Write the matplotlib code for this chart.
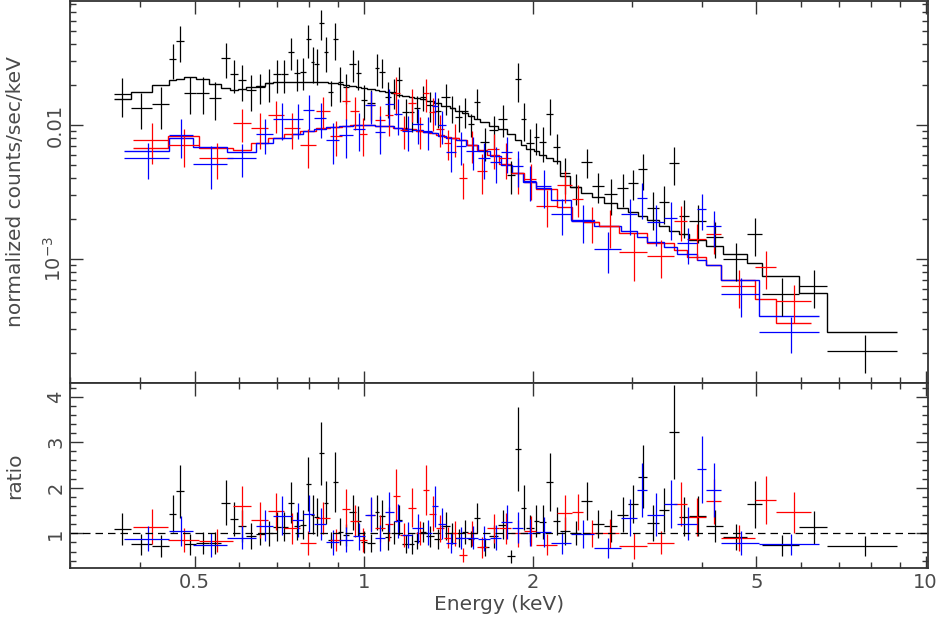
import numpy as np
import matplotlib
matplotlib.use("Agg")
import matplotlib.pyplot as plt
from matplotlib.ticker import NullFormatter, MultipleLocator

# bin edges (keV), data flux, 1-sigma errors and folded model (counts/sec/keV)
black_edges = [0.359, 0.385, 0.419, 0.451, 0.464, 0.478, 0.502, 0.531, 0.558, 0.577,
               0.596, 0.616, 0.642, 0.666, 0.688, 0.711, 0.732, 0.750, 0.769, 0.788,
               0.804, 0.817, 0.831, 0.848, 0.865, 0.883, 0.898, 0.920, 0.943, 0.967,
               0.987, 1.015, 1.045, 1.066, 1.093, 1.120, 1.143, 1.172, 1.206, 1.231,
               1.261, 1.288, 1.331, 1.375, 1.421, 1.456, 1.498, 1.536, 1.574, 1.613,
               1.674, 1.737, 1.795, 1.862, 1.908, 1.948, 2.005, 2.054, 2.114, 2.176,
               2.239, 2.332, 2.440, 2.552, 2.681, 2.827, 2.958, 3.082, 3.198, 3.359,
               3.500, 3.645, 3.797, 4.072, 4.365, 4.816, 5.123, 5.962, 6.685, 8.907]
black_flux = [.01704, .01339, .01435, .03109, .04235, .01733, .01733, .01591, .03162, .02402,
              .02167, .01825, .01921, .02058, .02402, .02402, .03506, .02444, .02486, .04383,
              .02952, .02853, .0577, .03506, .01763, .04383, .02094, .01921, .02853, .02444,
              .01537, .0146, .02663, .02486, .01618, .01763, .02167, .0125, .0125, .01339,
              .01618, .0141, .01272, .01618, .01339, .01147, .01272, .01017, .01485, .00747,
              .00918, .01109, .004235, .02204, .01109, .00734, .00814, .00747, .01208, .00685,
              .00438, .00345, .0053, .00351, .00306, .00339, .00369, .004695, .0024, .00266,
              .00521, .00209, .00192, .00146, .001, .00153, .000548, .000629, .000206]
black_err = [.0055, .0040, .0050, .0090, .0129, .0053, .0053, .0050, .0092, .0068,
             .0066, .0055, .0048, .0057, .0068, .0068, .0094, .0064, .0067, .0124,
             .0089, .0087, .0145, .0100, .0037, .0134, .0061, .0048, .0076, .0062,
             .0045, .0037, .0071, .0061, .0049, .0044, .0055, .0032, .0036, .0031,
             .0034, .0036, .0032, .0042, .0031, .0026, .0032, .0020, .0037, .0021,
             .0025, .0030, .0012, .0071, .0035, .0020, .0022, .0022, .0036, .0017,
             .0013, .0009, .0013, .0009, .00093, .00094, .00093, .00143, .00076, .00084,
             .00167, .00066, .0006, .00044, .00031, .00048, .00017, .0002, .000065]
black_model = [.01563, .01763, .01988, .02167, .02204, .02281, .02204, .02023, .01888, .01825,
               .01856, .01921, .01954, .02058, .02094, .02094, .02094, .02094, .02094, .02094,
               .02094, .02094, .02094, .02094, .02058, .02058, .02023, .01988, .01954, .01921,
               .01888, .01856, .01825, .01794, .01763, .01733, .01674, .01646, .01618, .01591,
               .01563, .01511, .0146, .01386, .01339, .01272, .01229, .01167, .01109, .01053,
               .00983, .00934, .00857, .00773, .00709, .00662, .0064, .00597, .00567, .00539,
               .00416, .00345, .00311, .0029, .00262, .0024, .00224, .00209, .00195, .00176,
               .00162, .00153, .001387, .00125, .00109, .000934, .000747, .000557, .000285]

red_edges = [0.389, 0.449, 0.510, 0.584, 0.631, 0.674, 0.720, 0.769, 0.821, 0.869,
             0.913, 0.947, 0.982, 1.015, 1.049, 1.089, 1.125, 1.162, 1.201, 1.241,
             1.277, 1.309, 1.347, 1.392, 1.432, 1.480, 1.529, 1.593, 1.660, 1.744,
             1.832, 1.932, 2.029, 2.211, 2.351, 2.460, 2.627, 2.851, 3.198, 3.571,
             3.766, 4.072, 4.329, 4.977, 5.424, 6.260]
red_flux = [.00773, .00709, .00567, .01035, .0095, .01187, .0095, .00709, .01272, .00828,
            .01511, .01272, .00857, .0141, .0109, .01187, .01733, .00918, .0146, .00902,
            .01733, .0125, .00934, .00734, .0080, .00401, .00709, .00454, .00662, .00567,
            .00438, .00395, .00249, .00357, .00281, .00189, .00176, .00113, .00105, .00192,
            .00141, .00153, .000629, .000871, .000486]
red_err = [.0026, .0022, .0017, .0029, .0029, .0032, .0029, .0023, .0034, .0024,
           .0042, .0035, .0027, .0036, .0029, .0036, .0055, .0025, .0040, .0024,
           .0049, .0034, .0025, .0019, .0022, .0012, .0019, .0015, .0019, .0017,
           .0013, .0012, .00076, .00096, .00075, .00057, .00055, .00044, .00033, .00056,
           .00043, .00044, .0002, .00027, .00015]
red_model = [.00674, .00828, .00674, .00651, .00734, .0080, .00857, .00902, .0095, .00966,
             .00983, .0100, .0100, .0100, .00983, .00983, .0095, .0095, .00934, .00902,
             .00887, .00872, .00842, .00814, .0080, .00773, .00709, .00651, .00597, .00512,
             .00438, .00375, .00333, .00245, .00192, .00189, .00176, .00156, .00132, .00117,
             .00104, .0009, .000697, .000503, .000333]

blue_edges = [0.375, 0.451, 0.496, 0.572, 0.644, 0.688, 0.744, 0.781, 0.817, 0.858,
              0.905, 0.955, 1.007, 1.049, 1.089, 1.130, 1.172, 1.221, 1.277, 1.320,
              1.358, 1.403, 1.462, 1.523, 1.600, 1.680, 1.758, 1.839, 1.924, 2.029,
              2.158, 2.342, 2.573, 2.875, 3.069, 3.198, 3.428, 3.615, 3.925, 4.072,
              4.329, 5.061, 6.471]
blue_flux = [.00567, .00842, .00512, .00567, .00857, .01109, .01109, .01294, .01128, .00773,
             .00842, .00934, .0141, .00887, .01435, .01208, .00902, .01017, .00902, .01386,
             .0100, .00629, .00697, .0064, .00567, .0053, .00629, .00494, .00382, .00351,
             .00217, .00192, .00119, .00217, .00285, .00189, .00202, .00132, .00236, .00176,
             .000548, .000285]
blue_err = [.0017, .0027, .0018, .0016, .0025, .0034, .0032, .0037, .0033, .0026,
            .0027, .0029, .0039, .0028, .0043, .0036, .0026, .0029, .0025, .0039,
            .0028, .0018, .0019, .0018, .0017, .0016, .0019, .0015, .0011, .0011,
            .00066, .0006, .0004, .00066, .00086, .00063, .00064, .0004, .00072, .00053,
            .00018, .000087]
blue_model = [.0064, .0080, .00685, .00629, .00734, .0080, .00857, .00902, .00934, .00966,
              .00983, .0100, .0100, .00983, .00983, .0095, .00934, .00918, .00887, .00872,
              .00828, .0080, .00773, .00709, .0064, .00587, .00503, .00438, .00375, .00339,
              .00276, .00195, .00176, .00162, .00146, .00134, .00123, .00109, .00098, .0009,
              .000697, .000376]

xticks = [0.5, 1, 2, 5, 10]
xtick_labels = ['0.5', '1', '2', '5', '10']

TXT = '#4a4a4a'
AX = '#333333'

fig = plt.figure(figsize=(9.41, 6.23), dpi=100)
ax1 = fig.add_axes([0.0744, 0.3852, 0.9118, 0.6132])
ax2 = fig.add_axes([0.0744, 0.0883, 0.9118, 0.2970], sharex=ax1)


def draw_group(edges, flux, err, model, color):
    edges = np.array(edges)
    flux = np.array(flux)
    err = np.array(err)
    model = np.array(model)
    lo, hi = edges[:-1], edges[1:]
    mid = (lo + hi) / 2
    xe = [mid - lo, hi - mid]
    ax1.errorbar(mid, flux, xerr=xe, yerr=err, fmt='none', ecolor=color,
                 elinewidth=0.9, capsize=0)
    ax1.stairs(model, edges, color=color, lw=1.0, baseline=None)
    ax2.errorbar(mid, flux / model, xerr=xe, yerr=err / model, fmt='none',
                 ecolor=color, elinewidth=0.9, capsize=0)


draw_group(black_edges, black_flux, black_err, black_model, 'black')
draw_group(red_edges, red_flux, red_err, red_model, 'red')
draw_group(blue_edges, blue_flux, blue_err, blue_model, 'blue')

ax2.axhline(1.0, color='black', lw=0.9, ls=(0, (6, 4)))

ax1.set_xscale('log')
ax1.set_yscale('log')
ax1.set_xlim(0.3, 10.1)
ax1.set_ylim(1.19e-4, 0.0842)
ax2.set_ylim(0.24, 4.3)

ax2.set_xticks(xticks, labels=xtick_labels)
ax2.xaxis.set_minor_formatter(NullFormatter())
plt.setp(ax1.get_xticklabels(), visible=False)

ax1.set_yticks([1e-3, 1e-2], labels=[r'$10^{-3}$', '0.01'])
ax1.yaxis.set_minor_formatter(NullFormatter())
ax2.set_yticks([1, 2, 3, 4], labels=['1', '2', '3', '4'])
ax2.yaxis.set_minor_locator(MultipleLocator(0.2))

for ax in (ax1, ax2):
    ax.tick_params(which='both', direction='in', top=True, right=True,
                   color=AX, labelcolor=TXT, labelsize=14, width=1.0)
    ax.tick_params(which='major', length=9)
    ax.tick_params(which='minor', length=4.5)
    for sp in ax.spines.values():
        sp.set_color(AX)
        sp.set_linewidth(1.3)
    for lab in ax.get_yticklabels():
        lab.set_rotation(90)
        lab.set_va('center')

ax1.set_ylabel('normalized counts/sec/keV', fontsize=14.5, color=TXT)
ax1.yaxis.set_label_coords(-0.053, 0.5)
ax2.set_ylabel('ratio', fontsize=14.5, color=TXT)
ax2.yaxis.set_label_coords(-0.053, 0.5)
ax2.set_xlabel('Energy (keV)', fontsize=14.5, color=TXT, labelpad=2)

fig.savefig('out.png', dpi=100)
